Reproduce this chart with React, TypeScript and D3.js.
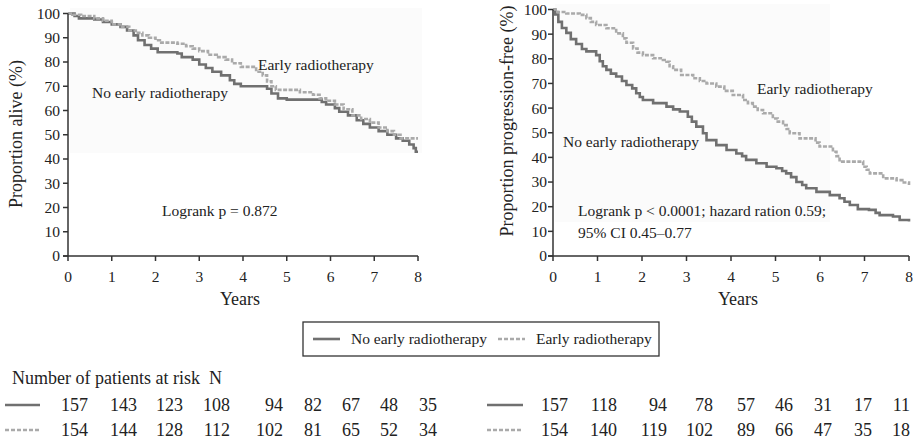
import React from "react";
import * as d3 from "d3";

// ---------- DATA ----------
const yearTicks = [0, 1, 2, 3, 4, 5, 6, 7, 8];
const pctTicks = [0, 10, 20, 30, 40, 50, 60, 70, 80, 90, 100];

// Overall survival (left panel): [years, %]
const osNoEarly: [number, number][] = [
  [0, 100], [0.15, 99], [0.25, 98], [0.6, 97.5], [0.8, 96.5], [1.0, 95.5], [1.2, 94.5], [1.35, 93],
  [1.5, 91], [1.6, 89], [1.75, 87], [1.9, 85.5], [2.05, 84], [2.5, 83.5], [2.6, 82], [2.85, 81],
  [3.0, 79], [3.15, 77.5], [3.3, 76], [3.5, 74.5], [3.7, 72.5], [3.8, 71], [3.95, 70], [4.55, 69],
  [4.65, 67], [4.8, 65], [5.0, 64.5], [5.8, 63.5], [5.9, 62.5], [6.1, 61], [6.2, 59.5], [6.4, 58],
  [6.6, 56], [6.75, 54.5], [6.9, 53], [7.1, 51.5], [7.3, 50], [7.5, 48.5], [7.65, 47.5], [7.8, 46],
  [7.9, 44.5], [7.95, 43], [8, 43],
];
const osEarly: [number, number][] = [
  [0, 100], [0.1, 99.5], [0.3, 99], [0.6, 98], [0.8, 97], [1.0, 95.5], [1.2, 94.5], [1.4, 93],
  [1.55, 92], [1.7, 91], [1.85, 90], [2.0, 89], [2.1, 88], [2.5, 87.5], [2.7, 86.5], [2.85, 85.5],
  [3.0, 84.5], [3.2, 83], [3.4, 82], [3.6, 81], [3.75, 79.5], [3.95, 78], [4.3, 76], [4.45, 74.5],
  [4.55, 72], [4.65, 70], [4.75, 68.5], [5.3, 67.5], [5.6, 66.5], [5.75, 65], [5.9, 64], [6.1, 62.5],
  [6.3, 60.5], [6.5, 58], [6.7, 56.5], [6.9, 55], [7.1, 53], [7.3, 51.5], [7.45, 50], [7.6, 48.5],
  [8, 48.5],
];

// Progression-free survival (right panel)
const pfsNoEarly: [number, number][] = [
  [0, 100], [0.05, 98], [0.12, 95], [0.2, 92.5], [0.3, 90.5], [0.4, 88], [0.52, 86], [0.65, 84],
  [0.75, 83], [0.97, 81.5], [1.05, 79], [1.12, 77], [1.2, 75.5], [1.3, 74], [1.42, 72.8], [1.55, 71],
  [1.65, 69.4], [1.78, 68], [1.87, 66], [1.95, 64.5], [2.02, 63.3], [2.25, 62], [2.55, 60.6], [2.7, 59.5],
  [2.85, 58.6], [3.03, 56.5], [3.12, 54.5], [3.22, 52.5], [3.37, 49.8], [3.45, 47], [3.67, 45], [3.9, 43],
  [4.12, 41.6], [4.25, 40.5], [4.34, 39], [4.57, 37.6], [4.8, 36.2], [5.02, 35.6], [5.15, 34.5], [5.24, 33.5],
  [5.35, 32], [5.47, 30], [5.6, 28.8], [5.69, 27.5], [5.92, 26], [6.22, 24.7], [6.44, 23.4], [6.55, 22],
  [6.67, 20.7], [6.85, 19], [7.1, 18.7], [7.25, 17.5], [7.34, 16.6], [7.64, 16], [7.79, 14.6], [8, 14],
];
const pfsEarly: [number, number][] = [
  [0, 100], [0.1, 99], [0.3, 98.4], [0.6, 97.8], [0.75, 96.5], [0.85, 95], [0.97, 93.7], [1.2, 92.4],
  [1.42, 90.3], [1.57, 88.3], [1.65, 86.5], [1.8, 84.2], [1.9, 82.5], [2.02, 81.5], [2.25, 80.2], [2.47, 79.5],
  [2.55, 78.8], [2.62, 77], [2.7, 75.5], [2.88, 73.4], [3.15, 72.1], [3.3, 71], [3.45, 70], [3.67, 68.7],
  [3.85, 67], [4.04, 65.3], [4.27, 63.3], [4.38, 62], [4.49, 60.6], [4.6, 59.2], [4.72, 57.9], [4.94, 55.8],
  [5.05, 54.5], [5.17, 53.1], [5.25, 51.5], [5.32, 49.8], [5.54, 47.7], [5.8, 47.7], [5.9, 46], [5.99, 44.4],
  [6.29, 42.3], [6.37, 40.5], [6.44, 38.3], [6.82, 38.3], [6.97, 36.2], [7.05, 35], [7.12, 33.5], [7.42, 31.5],
  [7.72, 30.8], [7.85, 29.8], [8, 28.8],
];

// Numbers at risk
const riskOsNoEarly = [157, 143, 123, 108, 94, 82, 67, 48, 35];
const riskOsEarly = [154, 144, 128, 112, 102, 81, 65, 52, 34];
const riskPfsNoEarly = [157, 118, 94, 78, 57, 46, 31, 17, 11];
const riskPfsEarly = [154, 140, 119, 102, 89, 66, 47, 35, 18];

const seriesNames = ["No early radiotherapy", "Early radiotherapy"];

// ---------- LAYOUT / STYLE ----------
const W = 913;
const H = 447;
const FONT = "'Liberation Serif', 'Times New Roman', Times, serif";
const AXIS = "#333";
const DARK = "#707070";
const LIGHT = "#aaaaaa";
const DASH = "4,1.5";

const riskColsLeft = [88, 137, 183, 230, 283, 322, 360, 398, 437];
const riskColsRight = [568, 617, 667, 713, 755, 793, 832, 872, 910];

type PanelProps = {
  x0: number; x1: number; yTop: number; yBot: number;
  noEarly: [number, number][]; early: [number, number][];
  yTitle: string; yTitleX: number; yTitleY: number; labelGap: number;
  shade: [number, number, number, number];
  yearsX: number;
  children?: React.ReactNode;
};

function Panel(p: PanelProps) {
  const x = d3.scaleLinear().domain([0, 8]).range([p.x0, p.x1]);
  const y = d3.scaleLinear().domain([0, 100]).range([p.yBot, p.yTop]);
  const line = d3.line<[number, number]>().x(d => x(d[0])).y(d => y(d[1])).curve(d3.curveStepAfter);
  return (
    <g>
      <rect x={p.shade[0]} y={p.shade[1]} width={p.shade[2]} height={p.shade[3]} fill="#fbfbfb" />
      <path d={line(p.noEarly) || ""} fill="none" stroke={DARK} strokeWidth={2.6} />
      <path d={line(p.early) || ""} fill="none" stroke={LIGHT} strokeWidth={2.6} strokeDasharray={DASH} />
      {/* axes */}
      <line x1={p.x0} x2={p.x0} y1={y(100)} y2={y(0)} stroke={AXIS} strokeWidth={1.5} />
      <line x1={p.x0 - 5} x2={p.x1} y1={y(0)} y2={y(0)} stroke={AXIS} strokeWidth={1.5} />
      {pctTicks.map(t => (
        <g key={"y" + t}>
          <line x1={p.x0 - 5} x2={p.x0} y1={y(t)} y2={y(t)} stroke={AXIS} strokeWidth={1.5} />
          <text x={p.x0 - p.labelGap} y={y(t)} dy="0.35em" textAnchor="end" fontSize={15.5} fontFamily={FONT} fill="#222">{t}</text>
        </g>
      ))}
      {yearTicks.map(t => (
        <g key={"x" + t}>
          <line x1={x(t)} x2={x(t)} y1={y(0)} y2={y(0) + 5} stroke={AXIS} strokeWidth={1.5} />
          <text x={x(t)} y={282} textAnchor="middle" fontSize={15.5} fontFamily={FONT} fill="#222">{t}</text>
        </g>
      ))}
      <text x={p.yearsX} y={305} textAnchor="middle" fontSize={18} fontFamily={FONT} fill="#222">Years</text>
      <text transform={`translate(${p.yTitleX},${p.yTitleY}) rotate(-90)`} textAnchor="middle" dy="0.35em"
        fontSize={18} fontFamily={FONT} fill="#222">{p.yTitle}</text>
      {p.children}
    </g>
  );
}

function RiskRows({ lineX0, lineX1, cols, a, b }: { lineX0: number; lineX1: number; cols: number[]; a: number[]; b: number[] }) {
  return (
    <g fontFamily={FONT} fontSize={18} fill="#222">
      <line x1={lineX0} x2={lineX1} y1={405} y2={405} stroke={DARK} strokeWidth={2.6} />
      <line x1={lineX0} x2={lineX1} y1={430} y2={430} stroke={LIGHT} strokeWidth={2.6} strokeDasharray="4,2" />
      {a.map((v, i) => <text key={"a" + i} x={cols[i]} y={411} textAnchor="end">{v}</text>)}
      {b.map((v, i) => <text key={"b" + i} x={cols[i]} y={436} textAnchor="end">{v}</text>)}
    </g>
  );
}

export default function App() {
  const ann = { fontFamily: FONT, fontSize: 15.5, fill: "#222" } as const;
  return (
    <svg width={W} height={H} style={{ position: "absolute", left: 0, top: 0, background: "#fff" }}>
      <rect width={W} height={H} fill="#fff" />
      <Panel x0={68} x1={418} yTop={13.5} yBot={256} noEarly={osNoEarly} early={osEarly}
        yTitle="Proportion alive (%)" yTitleX={16} yTitleY={134} labelGap={8}
        shade={[70, 8, 352, 145]} yearsX={240}>
        <text x={258} y={70} {...ann}>{seriesNames[1]}</text>
        <text x={92} y={98} {...ann}>{seriesNames[0]}</text>
        <text x={162} y={216} {...ann}>Logrank p = 0.872</text>
      </Panel>
      <Panel x0={553} x1={909} yTop={9.5} yBot={256} noEarly={pfsNoEarly} early={pfsEarly}
        yTitle="Proportion progression-free (%)" yTitleX={507} yTitleY={121} labelGap={6}
        shade={[555, 4, 275, 218]} yearsX={738}>
        <text x={757} y={94} {...ann}>{seriesNames[1]}</text>
        <text x={563} y={147} {...ann}>{seriesNames[0]}</text>
        <text x={578} y={216} {...ann}>Logrank p &lt; 0.0001; hazard ration 0.59;</text>
        <text x={578} y={238} {...ann}>95% CI 0.45–0.77</text>
      </Panel>

      {/* legend */}
      <g>
        <rect x={303} y={322} width={356} height={34} fill="#fff" stroke={AXIS} strokeWidth={1.3} />
        <line x1={313} x2={340} y1={339} y2={339} stroke={DARK} strokeWidth={2.6} />
        <text x={351} y={344} {...ann}>{seriesNames[0]}</text>
        <line x1={498} x2={525} y1={339} y2={339} stroke={LIGHT} strokeWidth={2.6} strokeDasharray="4,2" />
        <text x={536} y={344} {...ann}>{seriesNames[1]}</text>
      </g>

      {/* risk table */}
      <text x={12} y={384} fontFamily={FONT} fontSize={18} fill="#222" style={{ whiteSpace: "pre" }}>
        {"Number of patients at risk  N"}
      </text>
      <RiskRows lineX0={5} lineX1={40} cols={riskColsLeft} a={riskOsNoEarly} b={riskOsEarly} />
      <RiskRows lineX0={487} lineX1={523} cols={riskColsRight} a={riskPfsNoEarly} b={riskPfsEarly} />
    </svg>
  );
}
